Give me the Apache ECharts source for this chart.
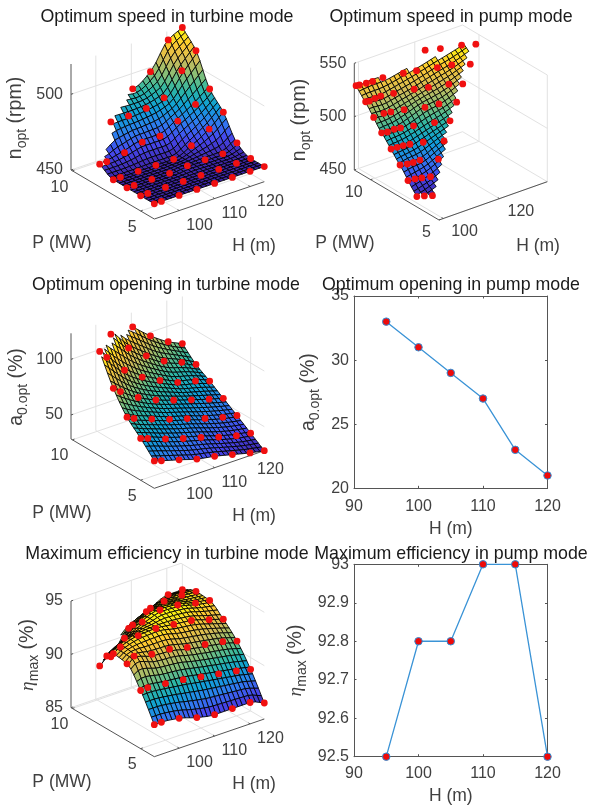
<!DOCTYPE html>
<html><head><meta charset="utf-8">
<style>html,body{margin:0;padding:0;background:#fff}#c{width:590px;height:808px;filter:blur(0.35px)}</style>
<script src="https://cdn.jsdelivr.net/npm/echarts@6/dist/echarts.min.js"></script>
</head><body><div id="c"></div>
<script>
// ---------- values ----------
const turbineH = [93, 95, 100, 105, 110, 115, 120, 124];
const turbineP = [4, 5, 6, 7, 8, 9, 10];
const speedTurbine = [
  [460,460,460,460,460,460,460,460],
  [460,460,460,460,460,460,460,460],
  [460,460,460,460,461,461,461,465],
  [460,460,460,460,460,465,472,480],
  [465,465,467,470,470,476,483,490],
  [null,null,482,482,483,486,500,510],
  [null,null,null,null,490.6,498,515,520]
];
const openingTurbine = [
  [53,51,46.4,41.6,38.6,34.7,30.8,28.4],
  [66,63.9,57.9,52.8,48.3,43.2,39,36.9],
  [77.8,74.5,68.5,62.8,58,52.7,48.2,45.5],
  [96.5,91.4,80.6,72.9,67.2,62.1,57.3,53.7],
  [122.4,114.9,97.9,86.2,77.8,70.6,66.4,61.9],
  [null,null,123,105.2,92.6,82.4,75.9,69.6],
  [null,null,null,null,111.3,97.9,87.1,81.1]
];
const efficiencyTurbine = [
  [88,88,87.8,87.3,87,87,87,86.5],
  [90.45,90.5,90.3,90.1,89.8,89.5,89.2,88.9],
  [92.2,92.7,92.3,92.2,91.8,91.5,91.2,90.8],
  [92.4,92.8,93.3,93.4,93.2,93,92.5,92.1],
  [90.5,91.2,92.3,93.25,93.8,93.7,93.3,93.1],
  [null,null,89.8,91.9,92.9,93.3,93.3,93.2],
  [null,null,null,null,90.9,91.9,92.6,92.6]
];
const pumpSpeedH = [98.4,100.3,102.2, 98.4,100.6,102.5,104.9, 98.5,100.5,102.4,104.8,109.2,
  98.5,100.5,102.5,104.5,108.2,113.3, 98.5,100.1,102.6,104.5,108.2,114.1,118.2,
  98.5,102.3,104.4,108.2,113.7,118.1,122.7, 98.6,99.7,102,104.1,108,114.1,118,123.7,126.9,
  98.5,99.5,101.7,103.8,107.5,113.7,117.6,123.4,127.6,132, 123.2,127.2,133.2,136.75];
const pumpSpeedP = [6.6,6.44,6.24, 7.25,7.19,7.08,6.94, 7.85,7.73,7.69,7.69,7.25,
  8.51,8.47,8.44,8.36,8.15,7.68, 9.2,9.1,9.13,9.05,8.86,8.54,8.25,
  9.78,9.82,9.74,9.55,9.16,9.04,8.69, 10.39,10.34,10.4,10.42,10.28,10.03,9.79,9.47,9.11,
  11.07,11.03,10.98,10.95,10.96,10.74,10.58,10.25,10.06,9.61, 11.1,10.81,10.49,10.18];
const pumpSpeedN = [460,460,460, 470,470,470,470, 480,480,480,480,480,
  490,490,490,490,490,490, 500,500,500,500,500,500,500,
  510,510,510,510,510,510,510, 520,520,520,520,520,520,520,520,520,
  530,530,530,530,530,530,530,530,530,530, 540,540,540,540];
const pumpH = [95, 100, 105, 110, 115, 120];
const pumpOpening = [33, 31, 29, 27, 23, 21];
const pumpEfficiency = [92.5, 92.8, 92.8, 93, 93, 92.5];
const parula = ['#3E26A8','#4648EE','#2F7CF0','#0FA0D6','#2EB7A4','#87BF77','#D1BB59','#FEC832','#F9FB0E'];

// ---------- styling / layout ----------
const FONT = '"Liberation Sans", Arial, sans-serif';
const INK = '#404040', GRIDC = '#e2e2e2', TS = 16, LS = 17.5, YS = 19.5, TITLE = 17.8;
const MESH_H = 25, MESH_P = 28;
const nameRich = {
  a:{fontSize:YS,fontFamily:FONT,fill:INK,color:INK},
  s:{fontSize:14,fontFamily:FONT,fill:INK,color:INK,padding:[12,0,0,0]},
  e:{fontSize:YS,fontFamily:'"Liberation Serif","DejaVu Serif",serif',fontStyle:'italic',fill:INK,color:INK}
};
const panels = [
 {title:'Optimum speed in turbine mode',tx:167,ty:16,
  H:[93,124],P:[4,10.1],Z:[450,520],front:[154.3,219],left:[71,170],right:[264.3,181.7],zh:106,
  hT:[100,110,120],pT:[5,10],zT:[450,500],hOff:[7,15],pOff:[-4,16.5],
  zName:'{a|n}{s|opt}{a| (rpm)}',zPos:[16,118],pPos:[62,243],hPos:[254,246],
  rows:speedTurbine},
 {title:'Optimum speed in pump mode',tx:451,ty:16,
  H:[98.5,137],P:[5,11.2],Z:[450,550],front:[439,220],left:[354.3,170],right:[547.3,181.7],zh:106.7,
  hT:[100,120],pT:[5,10],zT:[450,500,550],hOff:[8,13],pOff:[-8,12.5],
  zName:'{a|n}{s|opt}{a| (rpm)}',zPos:[300,120],pPos:[345,243],hPos:[538,246],
  scatter:[pumpSpeedH,pumpSpeedP,pumpSpeedN],
  hull:[[98.45,11.2],[98.45,6.5],[102.2,6.1],[137,10.42]]},
 {title:'Optimum opening in turbine mode',tx:166,ty:284,
  H:[93,124],P:[4,10.1],Z:[28.4,123.4],front:[154.3,488.3],left:[71,439],right:[264.3,450.7],zh:105.7,
  hT:[100,110,120],pT:[5,10],zT:[50,100],hOff:[7,14.5],pOff:[-4,16],
  zName:'{a|a}{s|0.opt}{a| (%)}',zPos:[17,387],pPos:[62,513],hPos:[254,516],
  rows:openingTurbine},
 {title:'Maximum efficiency in turbine mode',tx:167,ty:553,
  H:[93,124],P:[4,10.1],Z:[85,95],front:[154.3,756.7],left:[71,707.7],right:[264.3,719],zh:106.7,
  hT:[100,110,120],pT:[5,10],zT:[85,90,95],hOff:[7,14.5],pOff:[-4,16],
  zName:'{e|\u03B7}{s|max}{a| (%)}',zPos:[28,655],pPos:[62,782],hPos:[254,784],
  rows:efficiencyTurbine}
];

// ---------- projection and surface helpers ----------
function projector(p){
  const ax=[(p.right[0]-p.front[0])/(p.H[1]-p.H[0]),(p.right[1]-p.front[1])/(p.H[1]-p.H[0])];
  const bx=[(p.left[0]-p.front[0])/(p.P[1]-p.P[0]),(p.left[1]-p.front[1])/(p.P[1]-p.P[0])];
  const zs=p.zh/(p.Z[1]-p.Z[0]);
  return (h,q,z)=>[p.front[0]+ax[0]*(h-p.H[0])+bx[0]*(q-p.P[0]),
                   p.front[1]+ax[1]*(h-p.H[0])+bx[1]*(q-p.P[0])-zs*(z-p.Z[0])];
}
function pchip(xs,ys){
  const n=xs.length,d=[],m=new Array(n).fill(0);
  for(let i=0;i<n-1;i++)d.push((ys[i+1]-ys[i])/(xs[i+1]-xs[i]));
  m[0]=d[0];m[n-1]=d[n-2];
  for(let i=1;i<n-1;i++){
    if(d[i-1]*d[i]<=0)m[i]=0;
    else{const w1=2*(xs[i+1]-xs[i])+(xs[i]-xs[i-1]),w2=(xs[i+1]-xs[i])+2*(xs[i]-xs[i-1]);
      m[i]=(w1+w2)/(w1/d[i-1]+w2/d[i]);}
  }
  return x=>{
    let i=0;while(i<n-2&&x>xs[i+1])i++;
    const h=xs[i+1]-xs[i],t=(x-xs[i])/h,t2=t*t,t3=t2*t;
    return (2*t3-3*t2+1)*ys[i]+(t3-2*t2+t)*h*m[i]+(-2*t3+3*t2)*ys[i+1]+(t3-t2)*h*m[i+1];
  };
}
function fill(rows){
  const r=rows.map(a=>a.slice());
  for(let j=0;j<r[0].length;j++)for(let i=2;i<r.length;i++)
    if(r[i][j]==null)r[i][j]=2*r[i-1][j]-r[i-2][j];
  return r;
}
const hullH=[93,100,110,124],hullP=[8,9,10,10];
function maxPAt(h){
  for(let i=0;i<3;i++)if(h<=hullH[i+1]+1e-9)
    return hullP[i]+(hullP[i+1]-hullP[i])*(h-hullH[i])/(hullH[i+1]-hullH[i]);
  return 10;
}
function tensorField(rows){
  const f=fill(rows),byRow=f.map(r=>pchip(turbineH,r));
  return (h,q)=>pchip(turbineP,byRow.map(g=>g(h)))(q);
}
function tpsField(hs,qs,zs){
  const n=hs.length,N=n+3,A=[];
  const U=(r2)=>r2>0?r2*Math.log(r2)/2:0;
  const sx=1/10,sy=1;
  for(let i=0;i<N;i++)A.push(new Array(N+1).fill(0));
  for(let i=0;i<n;i++){
    for(let j=0;j<n;j++){const dx=(hs[i]-hs[j])*sx,dy=(qs[i]-qs[j])*sy;A[i][j]=U(dx*dx+dy*dy)+(i==j?0.002:0);}
    A[i][n]=1;A[i][n+1]=hs[i]*sx;A[i][n+2]=qs[i]*sy;
    A[n][i]=1;A[n+1][i]=hs[i]*sx;A[n+2][i]=qs[i]*sy;
    A[i][N]=zs[i];
  }
  for(let c=0;c<N;c++){
    let p=c;for(let r=c+1;r<N;r++)if(Math.abs(A[r][c])>Math.abs(A[p][c]))p=r;
    [A[c],A[p]]=[A[p],A[c]];
    for(let r=0;r<N;r++)if(r!=c){const k=A[r][c]/A[c][c];if(k)for(let q=c;q<=N;q++)A[r][q]-=k*A[c][q];}
  }
  const w=A.map((r,i)=>r[N]/r[i]);
  return (h,q)=>{
    let v=w[n]+w[n+1]*h*sx+w[n+2]*q*sy;
    for(let i=0;i<n;i++){const dx=(h-hs[i])*sx,dy=(q-qs[i])*sy;v+=w[i]*U(dx*dx+dy*dy);}
    return v;
  };
}
function inPoly(poly,h,q){
  let ok=false;
  for(let i=0,j=poly.length-1;i<poly.length;j=i++){
    const a=poly[i],b=poly[j];
    if((a[1]>q)!=(b[1]>q)&&h<(b[0]-a[0])*(q-a[1])/(b[1]-a[1])+a[0])ok=!ok;
  }
  return ok;
}
function hexRgb(c){return [1,3,5].map(i=>parseInt(c.substr(i,2),16));}
const parulaRgb=parula.map(hexRgb);
function colorOf(t){
  t=Math.max(0,Math.min(1,t))*(parulaRgb.length-1);
  const i=Math.min(parulaRgb.length-2,Math.floor(t)),f=t-i;
  const c=parulaRgb[i].map((v,k)=>Math.round(v+(parulaRgb[i+1][k]-v)*f));
  return 'rgb('+c.join(',')+')';
}
function meshFor(p){
  const pts=[];let field,inside,hs,qs;
  if(p.rows){
    field=tensorField(p.rows);
    inside=(h,q)=>q<=maxPAt(h)+1e-6;
    hs=[turbineH[0],turbineH[turbineH.length-1]];qs=[4,10];
    p.rows.forEach((r,i)=>r.forEach((z,j)=>{if(z!=null)pts.push([turbineH[j],turbineP[i],z]);}));
  }else{
    const [a,b,c]=p.scatter;
    field=tpsField(a,b,c);
    inside=(h,q)=>inPoly(p.hull,h,q);
    hs=[98.45,137];qs=[6.1,11.2];
    a.forEach((v,i)=>pts.push([v,b[i],c[i]]));
  }
  const gh=[],gq=[];
  for(let i=0;i<=MESH_H;i++)gh.push(hs[0]+(hs[1]-hs[0])*i/MESH_H);
  for(let i=0;i<=MESH_P;i++)gq.push(qs[0]+(qs[1]-qs[0])*i/MESH_P);
  const grid=gq.map(q=>gh.map(h=>inside(h+1e-9,q)||inside(h-1e-9,q)?field(h,q):null));
  const cells=[];let lo=Infinity,hi=-Infinity;
  for(let i=MESH_P-1;i>=0;i--)for(let j=MESH_H-1;j>=0;j--){
    const v=[grid[i][j],grid[i][j+1],grid[i+1][j],grid[i+1][j+1]];
    if(v.some(x=>x==null))continue;
    cells.push([gh[j],gh[j+1],gq[i],gq[i+1],v[0],v[1],v[2],v[3]]);
    v.forEach(x=>{lo=Math.min(lo,x);hi=Math.max(hi,x);});
  }
  return {cells,pts,lo,hi};
}
function frameGroup(p,pr){
  const ch=[];
  const line=(a,b,c,w)=>ch.push({type:'line',shape:{x1:a[0],y1:a[1],x2:b[0],y2:b[1]},style:{stroke:c,lineWidth:w||1}});
  const [h0,h1]=p.H,[q0,q1]=p.P,[z0,z1]=p.Z;
  p.hT.forEach(h=>{line(pr(h,q0,z0),pr(h,q1,z0),GRIDC);line(pr(h,q1,z0),pr(h,q1,z1),GRIDC);});
  p.pT.forEach(q=>{line(pr(h0,q,z0),pr(h1,q,z0),GRIDC);line(pr(h1,q,z0),pr(h1,q,z1),GRIDC);});
  p.zT.forEach(z=>{line(pr(h0,q1,z),pr(h1,q1,z),GRIDC);line(pr(h1,q1,z),pr(h1,q0,z),GRIDC);});
  line(pr(h0,q1,z0),pr(h0,q1,z1),'#555');
  line(pr(h0,q1,z0),pr(h0,q0,z0),'#555');
  line(pr(h0,q0,z0),pr(h1,q0,z0),'#555');
  const txt=(s,x,y,al,va,sz)=>ch.push({type:'text',style:{text:s,x,y,fill:INK,fontSize:sz||TS,fontFamily:FONT,align:al,verticalAlign:va}});
  p.hT.forEach(h=>{const a=pr(h,q0,z0);line(a,pr(h,q0+0.12,z0),'#555');txt(String(h),a[0]+p.hOff[0],a[1]+p.hOff[1],'left','middle');});
  p.pT.forEach(q=>{const a=pr(h0,q,z0);line(a,pr(h0+0.6,q,z0),'#555');txt(String(q),a[0]+p.pOff[0],a[1]+p.pOff[1],'right','middle');});
  p.zT.forEach(z=>{const a=pr(h0,q1,z);line(a,pr(h0+0.6,q1,z),'#555');txt(String(z),a[0]-8,a[1],'right','middle');});
  txt('P (MW)',p.pPos[0],p.pPos[1],'center','middle',LS);
  txt('H (m)',p.hPos[0],p.hPos[1],'center','middle',LS);
  ch.push({type:'text',x:p.zPos[0],y:p.zPos[1],rotation:Math.PI/2,
    style:{text:p.zName,rich:nameRich,x:0,y:0,fill:INK,fontFamily:FONT,fontSize:YS,align:'center',verticalAlign:'middle'}});
  return {type:'group',children:ch};
}

// ---------- series ----------
const series=[];
panels.forEach(p=>{
  const pr=projector(p),m=meshFor(p);
  series.push({type:'custom',coordinateSystem:'none',silent:true,animation:false,z:1,data:[[0]],
    renderItem:()=>frameGroup(p,pr)});
  series.push({type:'custom',coordinateSystem:'none',silent:true,animation:false,z:2,
    progressive:0,data:m.cells,
    renderItem:(ps,api)=>{
      const v=[0,1,2,3,4,5,6,7].map(i=>api.value(i));
      const mean=(v[4]+v[5]+v[6]+v[7])/4;
      return {type:'polygon',shape:{points:[pr(v[0],v[2],v[4]),pr(v[1],v[2],v[5]),pr(v[1],v[3],v[7]),pr(v[0],v[3],v[6])]},
        style:{fill:colorOf((mean-m.lo)/(m.hi-m.lo)),stroke:'rgba(0,0,0,0.85)',lineWidth:1}};
    }});
  series.push({type:'custom',coordinateSystem:'none',silent:true,animation:false,z:3,
    progressive:0,data:m.pts,
    renderItem:(ps,api)=>{
      const c=pr(api.value(0),api.value(1),api.value(2));
      return {type:'circle',shape:{cx:c[0],cy:c[1],r:3.4},style:{fill:'#f01010'}};
    }});
});
const lineStyle={color:'#3a93d6',width:1.3};
const markerStyle={color:'#ee0a0a',borderColor:'#2f8fd8',borderWidth:1};
series.push({type:'line',xAxisIndex:0,yAxisIndex:0,data:pumpH.map((h,i)=>[h,pumpOpening[i]]),animation:false,silent:true,
  symbol:'circle',symbolSize:7.5,lineStyle,itemStyle:markerStyle,z:4});
series.push({type:'line',xAxisIndex:2,yAxisIndex:2,data:pumpH.map((h,i)=>[h,pumpEfficiency[i]]),animation:false,silent:true,
  symbol:'circle',symbolSize:7.5,lineStyle,itemStyle:markerStyle,clip:false,z:4});

const axLine={show:true,lineStyle:{color:'#555',width:1}};
const tick={show:true,inside:true,length:2.5,lineStyle:{color:'#555'}};
const axLab={color:INK,fontSize:TS,fontFamily:FONT};
function xPair(gi,gap,mar){return [
  {type:'value',gridIndex:gi,min:90,max:120,interval:10,position:'bottom',axisLine:axLine,axisTick:tick,splitLine:{show:false},
   axisLabel:{...axLab,margin:mar},name:'H (m)',nameLocation:'middle',nameGap:gap,nameTextStyle:{color:INK,fontSize:LS,fontFamily:FONT}},
  {type:'value',gridIndex:gi,min:90,max:120,interval:10,position:'top',axisLine:axLine,axisTick:tick,axisLabel:{show:false},splitLine:{show:false}}
];}
function yPair(gi,lo,hi,iv,name,gap){return [
  {type:'value',gridIndex:gi,min:lo,max:hi,interval:iv,position:'left',axisLine:axLine,axisTick:tick,splitLine:{show:false},
   axisLabel:{...axLab,margin:5},name,nameLocation:'middle',nameGap:gap,nameRotate:90,
   nameTextStyle:{rich:nameRich,color:INK,fontSize:YS,fontFamily:FONT}},
  {type:'value',gridIndex:gi,min:lo,max:hi,interval:iv,position:'right',axisLine:axLine,axisTick:tick,axisLabel:{show:false},splitLine:{show:false}}
];}

const option={
  backgroundColor:'#fff',animation:false,
  title:[...panels.map(p=>[p.title,p.tx,p.ty]),['Optimum opening in pump mode',451,284],['Maximum efficiency in pump mode',451,553]]
    .map(t=>({text:t[0],left:t[1],top:t[2]-8,textAlign:'center',padding:0,
      textStyle:{fontSize:TITLE,fontWeight:'normal',color:'#1a1a1a',fontFamily:FONT}})),
  grid:[{left:354,top:296,width:193.5,height:192.3},{left:354,top:564.3,width:193.5,height:192.4}],
  xAxis:[...xPair(0,32,10),...xPair(1,30,9)],
  yAxis:[...yPair(0,20,35,5,'{a|a}{s|0.opt}{a| (%)}',32),...yPair(1,92.5,93,0.1,'{e|\u03B7}{s|max}{a| (%)}',45)],
  series
};
const chart=echarts.init(document.getElementById('c'),null,{renderer:'canvas'});
chart.setOption(option);
</script></body></html>
